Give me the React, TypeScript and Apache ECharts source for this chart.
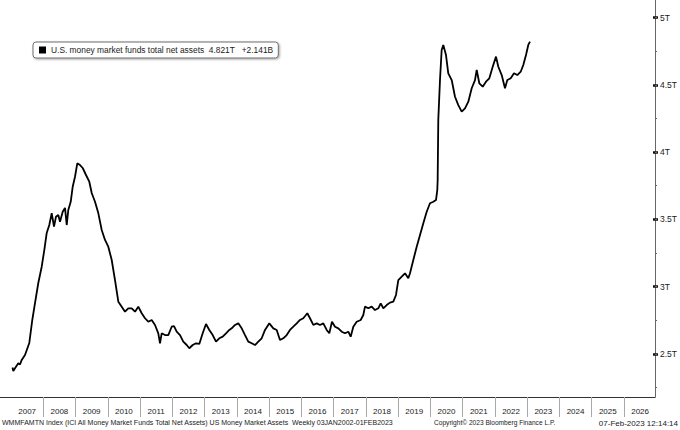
import React, { useEffect, useRef } from "react";
import * as echarts from "echarts";

// ---- data (decimal year, trillions USD) ----
const WEEK_YEAR = [
  2007.046, 2007.071, 2007.124, 2007.226, 2007.279, 2007.332, 2007.434, 2007.567, 2007.66, 2007.744,
  2007.846, 2007.952, 2008.032, 2008.107, 2008.187, 2008.262, 2008.333, 2008.395, 2008.466, 2008.519,
  2008.603, 2008.674, 2008.727, 2008.776, 2008.851, 2008.913, 2008.984, 2009.055, 2009.139, 2009.223,
  2009.325, 2009.427, 2009.502, 2009.604, 2009.706, 2009.812, 2009.914, 2010.016, 2010.122, 2010.224,
  2010.327, 2010.432, 2010.534, 2010.636, 2010.742, 2010.844, 2010.946, 2011.051, 2011.154, 2011.256,
  2011.361, 2011.464, 2011.566, 2011.619, 2011.671, 2011.774, 2011.876, 2011.981, 2012.053, 2012.136,
  2012.239, 2012.341, 2012.446, 2012.527, 2012.632, 2012.735, 2012.837, 2012.942, 2013.045, 2013.147,
  2013.252, 2013.355, 2013.457, 2013.562, 2013.665, 2013.767, 2013.841, 2013.944, 2014.046, 2014.151,
  2014.254, 2014.356, 2014.461, 2014.564, 2014.666, 2014.771, 2014.874, 2015.007, 2015.131, 2015.236,
  2015.338, 2015.441, 2015.546, 2015.648, 2015.751, 2015.856, 2015.958, 2016.061, 2016.185, 2016.268,
  2016.371, 2016.476, 2016.578, 2016.681, 2016.786, 2016.867, 2016.95, 2017.043, 2017.146, 2017.251,
  2017.353, 2017.456, 2017.53, 2017.611, 2017.716, 2017.84, 2017.921, 2017.973, 2018.076, 2018.181,
  2018.283, 2018.386, 2018.46, 2018.541, 2018.646, 2018.748, 2018.851, 2018.934, 2019.006, 2019.111,
  2019.213, 2019.316, 2019.368, 2019.471, 2019.576, 2019.679, 2019.781, 2019.886, 2019.988, 2020.091,
  2020.174, 2020.214, 2020.226, 2020.245, 2020.298, 2020.35, 2020.4, 2020.484, 2020.555, 2020.661,
  2020.763, 2020.866, 2020.971, 2021.073, 2021.176, 2021.281, 2021.383, 2021.436, 2021.517, 2021.622,
  2021.724, 2021.827, 2021.932, 2022.034, 2022.106, 2022.211, 2022.313, 2022.385, 2022.49, 2022.592,
  2022.694, 2022.8, 2022.88, 2022.964, 2023.035, 2023.088,
];
const NET_ASSETS_T = [
  2.398, 2.372, 2.392, 2.429, 2.42, 2.454, 2.491, 2.58, 2.751, 2.877,
  3.026, 3.147, 3.271, 3.398, 3.457, 3.546, 3.445, 3.519, 3.532, 3.482,
  3.556, 3.584, 3.457, 3.569, 3.63, 3.742, 3.816, 3.916, 3.903, 3.881,
  3.829, 3.779, 3.695, 3.63, 3.546, 3.42, 3.346, 3.296, 3.197, 3.048,
  2.887, 2.85, 2.813, 2.838, 2.838, 2.813, 2.85, 2.801, 2.764, 2.738,
  2.751, 2.714, 2.652, 2.578, 2.652, 2.639, 2.639, 2.701, 2.706, 2.664,
  2.639, 2.59, 2.565, 2.541, 2.565, 2.578, 2.573, 2.652, 2.721, 2.677,
  2.639, 2.59, 2.615, 2.627, 2.652, 2.677, 2.689, 2.714, 2.726, 2.689,
  2.639, 2.59, 2.578, 2.565, 2.59, 2.615, 2.677, 2.726, 2.689, 2.677,
  2.602, 2.615, 2.639, 2.677, 2.701, 2.726, 2.751, 2.764, 2.801, 2.764,
  2.714, 2.726, 2.714, 2.726, 2.677, 2.652, 2.738, 2.701, 2.689, 2.664,
  2.652, 2.664, 2.627, 2.701, 2.738, 2.751, 2.788, 2.85, 2.838, 2.85,
  2.825, 2.838, 2.875, 2.838, 2.862, 2.88, 2.887, 2.937, 3.048, 3.073,
  3.098, 3.061, 3.098, 3.197, 3.296, 3.383, 3.47, 3.556, 3.619, 3.63,
  3.643, 3.717, 3.792, 4.238, 4.535, 4.758, 4.796, 4.721, 4.585, 4.535,
  4.411, 4.349, 4.3, 4.325, 4.374, 4.474, 4.535, 4.61, 4.511, 4.486,
  4.523, 4.548, 4.634, 4.709, 4.634, 4.572, 4.474, 4.535, 4.548, 4.585,
  4.572, 4.597, 4.647, 4.721, 4.796, 4.821,
];

const SERIES_NAME = "U.S. money market funds total net assets";
const LAST_VALUE_LABEL = "4.821T";
const CHANGE_LABEL = "+2.141B";

const YEAR_LABELS = [
  "2007", "2008", "2009", "2010", "2011", "2012", "2013", "2014", "2015", "2016",
  "2017", "2018", "2019", "2020", "2021", "2022", "2023", "2024", "2025", "2026",
];
const YEAR_FIRST = 2007;
const YEAR_END = 2027;

const Y_LABEL_MIN = 2.5;
const Y_LABEL_MAX = 5;
const Y_MINOR_MIN = 2.25;

const FOOTER_LEFT =
  "WMMFAMTN Index (ICI All Money Market Funds Total Net Assets) US Money Market Assets  Weekly 03JAN2002-01FEB2023";
const FOOTER_MID = "Copyright\u00A9 2023 Bloomberg Finance L.P.";
const FOOTER_RIGHT = "07-Feb-2023 12:14:14";

// ---- layout ----
const W = 680;
const H = 430;
const PLOT_RIGHT = 655;
const PLOT_BOTTOM = 397;
const PX_PER_YEAR = 32.26;
const X_AT_2007 = 11;
const PX_PER_T = 134.5;
const Y_AT_5T = 17.5;

const X_MIN = YEAR_FIRST - X_AT_2007 / PX_PER_YEAR;
const X_MAX = YEAR_FIRST + (PLOT_RIGHT - X_AT_2007) / PX_PER_YEAR;
const Y_MAX = 5 + Y_AT_5T / PX_PER_T;
const Y_MIN = 5 - (PLOT_BOTTOM - Y_AT_5T) / PX_PER_T;
const yPix = (v: number) => Y_AT_5T + (5 - v) * PX_PER_T;

const FONT = "Liberation Sans";
const TXT = "#1a1a1a";

export default function App() {
  const ref = useRef<HTMLDivElement>(null);
  useEffect(() => {
    if (!ref.current) return;
    const chart = echarts.init(ref.current, undefined, { renderer: "svg" });
    const data = WEEK_YEAR.map((t, i) => [t, NET_ASSETS_T[i]]);
    const hidden = { show: false };
    const hiddenLine = { show: false, onZero: false };
    chart.setOption({
      animation: false,
      backgroundColor: "#ffffff",
      textStyle: { fontFamily: FONT },
      legend: {
        left: 33,
        top: 42,
        orient: "horizontal",
        icon: "rect",
        itemWidth: 7,
        itemHeight: 7,
        padding: [4, 5, 4, 6],
        backgroundColor: "#ffffff",
        borderColor: "#6e6e6e",
        borderWidth: 1,
        borderRadius: 3,
        shadowBlur: 2,
        shadowOffsetX: 1,
        shadowOffsetY: 1,
        shadowColor: "rgba(0,0,0,0.35)",
        textStyle: { fontSize: 8.4, color: TXT, fontFamily: FONT },
        formatter: (name: string) => `${name}  ${LAST_VALUE_LABEL}   ${CHANGE_LABEL}`,
        data: [{ name: SERIES_NAME, itemStyle: { color: "#000" } }],
      },
      grid: [
        // main plot
        { left: 0, top: 0, width: PLOT_RIGHT, height: PLOT_BOTTOM, containLabel: false },
        // labelled right axis (2.5T..5T)
        { left: 0, width: PLOT_RIGHT, top: yPix(Y_LABEL_MAX), height: yPix(Y_LABEL_MIN) - yPix(Y_LABEL_MAX) },
        // minor ticks (quarters)
        { left: 0, width: PLOT_RIGHT, top: yPix(Y_LABEL_MAX), height: yPix(Y_MINOR_MIN) - yPix(Y_LABEL_MAX) },
        // year labels
        {
          left: X_AT_2007,
          width: (YEAR_END - YEAR_FIRST) * PX_PER_YEAR,
          top: PLOT_BOTTOM - 1,
          height: 1,
        },
        // year separators
        {
          left: X_AT_2007 + PX_PER_YEAR,
          width: (YEAR_END - YEAR_FIRST - 2) * PX_PER_YEAR,
          top: PLOT_BOTTOM - 1,
          height: 1,
        },
      ],
      xAxis: [
        {
          type: "value",
          gridIndex: 0,
          min: X_MIN,
          max: X_MAX,
          axisLine: { show: true, onZero: false, lineStyle: { color: "#333", width: 1 } },
          axisTick: hidden,
          axisLabel: hidden,
          splitLine: hidden,
        },
        { type: "value", gridIndex: 1, show: false, min: 0, max: 1, axisLine: hiddenLine },
        { type: "value", gridIndex: 2, show: false, min: 0, max: 1, axisLine: hiddenLine },
        {
          type: "category",
          gridIndex: 3,
          data: YEAR_LABELS,
          boundaryGap: true,
          axisLine: hiddenLine,
          axisTick: hidden,
          axisLabel: { show: true, margin: 10, fontSize: 8, color: TXT, fontFamily: FONT },
          splitLine: hidden,
        },
        {
          type: "value",
          gridIndex: 4,
          min: YEAR_FIRST + 1,
          max: YEAR_END - 1,
          interval: 1,
          axisLine: hiddenLine,
          axisTick: { show: true, length: 20, lineStyle: { color: "#a8a8a8", width: 1 } },
          axisLabel: hidden,
          splitLine: hidden,
        },
      ],
      yAxis: [
        {
          type: "value",
          gridIndex: 0,
          position: "right",
          min: Y_MIN,
          max: Y_MAX,
          axisLine: { show: true, onZero: false, lineStyle: { color: "#666", width: 1 } },
          axisTick: hidden,
          axisLabel: hidden,
          splitLine: hidden,
        },
        {
          type: "value",
          gridIndex: 1,
          position: "right",
          min: Y_LABEL_MIN,
          max: Y_LABEL_MAX,
          interval: 0.5,
          axisLine: hiddenLine,
          axisTick: { show: true, inside: false, length: 5, lineStyle: { color: "#111", width: 2.5 } },
          axisLabel: {
            show: true,
            margin: 7,
            fontSize: 8.5,
            color: TXT,
            fontFamily: FONT,
            formatter: (v: number) => `${v}T`,
          },
          splitLine: hidden,
        },
        {
          type: "value",
          gridIndex: 2,
          position: "right",
          min: Y_MINOR_MIN,
          max: Y_LABEL_MAX,
          interval: 0.25,
          axisLine: hiddenLine,
          axisTick: { show: true, inside: false, length: 2, lineStyle: { color: "#666", width: 1 } },
          axisLabel: hidden,
          splitLine: hidden,
        },
        { type: "value", gridIndex: 3, show: false, min: 0, max: 1, axisLine: hiddenLine },
        { type: "value", gridIndex: 4, show: false, min: 0, max: 1, axisLine: hiddenLine },
      ],
      series: [
        {
          name: SERIES_NAME,
          type: "line",
          xAxisIndex: 0,
          yAxisIndex: 0,
          data,
          showSymbol: false,
          symbol: "none",
          lineStyle: { color: "#000", width: 1.8 },
          itemStyle: { color: "#000" },
          silent: true,
        },
      ],
      graphic: [
        {
          type: "text",
          left: 2,
          top: 419,
          style: { text: FOOTER_LEFT, fontSize: 7, fill: TXT, fontFamily: FONT },
        },
        {
          type: "text",
          left: 434,
          top: 419,
          style: { text: FOOTER_MID, fontSize: 6.6, fill: TXT, fontFamily: FONT },
        },
        {
          type: "text",
          right: 2,
          top: 419,
          style: { text: FOOTER_RIGHT, fontSize: 8, fill: TXT, fontFamily: FONT },
        },
      ],
    });
    return () => chart.dispose();
  }, []);
  return (
    <div
      ref={ref}
      style={{ position: "absolute", left: 0, top: 0, width: W, height: H, background: "#fff" }}
    />
  );
}
